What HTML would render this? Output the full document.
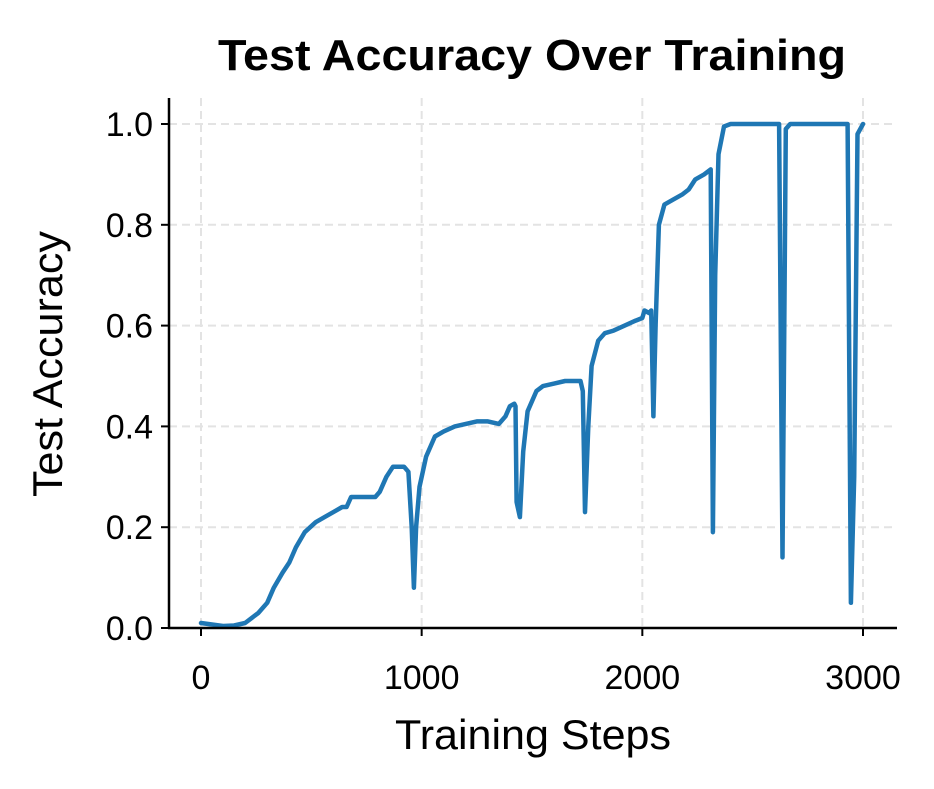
<!DOCTYPE html>
<html><head><meta charset="utf-8"><style>
body{margin:0;background:#fff}
svg text{font-family:"Liberation Sans","DejaVu Sans",sans-serif;fill:#000}
</style></head><body>
<svg width="934" height="784" viewBox="0 0 934 784">
<text x="532" y="70" text-anchor="middle" font-size="44" font-weight="bold" textLength="628" lengthAdjust="spacingAndGlyphs">Test Accuracy Over Training</text>
<g id="grid"></g>
<g id="series"></g>
<g id="axes"></g>
<text x="533" y="749" text-anchor="middle" font-size="42" textLength="276" lengthAdjust="spacingAndGlyphs">Training Steps</text>
<text transform="translate(62,364) rotate(-90)" text-anchor="middle" font-size="42" textLength="266" lengthAdjust="spacingAndGlyphs">Test Accuracy</text>
</svg>
<script>
const steps=[0,50,100,150,200,230,260,300,330,370,400,430,470,520,560,600,640,660,680,720,760,790,810,840,870,900,920,940,955,965,975,990,1020,1060,1100,1150,1200,1250,1300,1350,1380,1400,1420,1425,1430,1445,1460,1480,1520,1550,1600,1650,1700,1720,1730,1740,1755,1770,1800,1830,1870,1920,1970,2000,2010,2030,2040,2050,2060,2075,2100,2140,2180,2210,2240,2280,2310,2320,2330,2345,2370,2400,2620,2635,2650,2670,2930,2945,2960,2975,3000];
const acc=[0.01,0.007,0.004,0.005,0.01,0.02,0.03,0.05,0.08,0.11,0.13,0.16,0.19,0.21,0.22,0.23,0.24,0.24,0.26,0.26,0.26,0.26,0.27,0.30,0.32,0.32,0.32,0.31,0.20,0.08,0.20,0.28,0.34,0.38,0.39,0.40,0.405,0.41,0.41,0.405,0.42,0.44,0.445,0.44,0.25,0.22,0.35,0.43,0.47,0.48,0.485,0.49,0.49,0.49,0.47,0.23,0.40,0.52,0.57,0.585,0.59,0.60,0.61,0.615,0.63,0.625,0.63,0.42,0.60,0.80,0.84,0.85,0.86,0.87,0.89,0.90,0.91,0.19,0.70,0.94,0.995,1.0,1.0,0.14,0.99,1.0,1.0,0.05,0.3,0.98,1.0];
const xTicks=[0,1000,2000,3000];
const yTicks=[0,0.2,0.4,0.6,0.8,1.0];
const X=v=>201+v*(662/3000), Y=v=>628-v*504;
const NS="http://www.w3.org/2000/svg";
function mk(t,a,p){const e=document.createElementNS(NS,t);for(const k in a)e.setAttribute(k,a[k]);p.appendChild(e);return e;}
const grid=document.getElementById('grid'),axes=document.getElementById('axes'),ser=document.getElementById('series');
xTicks.forEach(v=>{
 const g=mk('line',{x1:X(v),x2:X(v),y1:98,y2:628,stroke:'#e3e3e3','stroke-width':2,'stroke-dasharray':'8,5'},grid);
 
 
 const t=mk('line',{x1:X(v),x2:X(v),y1:628,y2:636,stroke:'#000','stroke-width':2},axes);
 
 
 const l=mk('text',{x:X(v),y:689,'text-anchor':'middle','font-size':34},axes);l.textContent=v;
 
 
});
yTicks.forEach(v=>{
 const g=mk('line',{x1:169,x2:897,y1:Y(v),y2:Y(v),stroke:'#e3e3e3','stroke-width':2,'stroke-dasharray':'8,5'},grid);
 
 
 const t=mk('line',{x1:161,x2:169,y1:Y(v),y2:Y(v),stroke:'#000','stroke-width':2},axes);
 
 
 const l=mk('text',{x:153,y:Y(v)+12,'text-anchor':'end','font-size':34},axes);l.textContent=v.toFixed(1);
 
 
});
const s1=mk('line',{x1:169,x2:169,y1:98,y2:629,stroke:'#000','stroke-width':2.5},axes);


const s2=mk('line',{x1:168,x2:897,y1:628,y2:628,stroke:'#000','stroke-width':2.5},axes);


const pth=mk('path',{d:steps.map((s,i)=>(i?'L':'M')+X(s).toFixed(1)+','+Y(acc[i]).toFixed(1)).join(''),fill:'none',stroke:'#1f77b4','stroke-width':4.5,'stroke-linejoin':'round','stroke-linecap':'round'},ser);


</script>
</body></html>
